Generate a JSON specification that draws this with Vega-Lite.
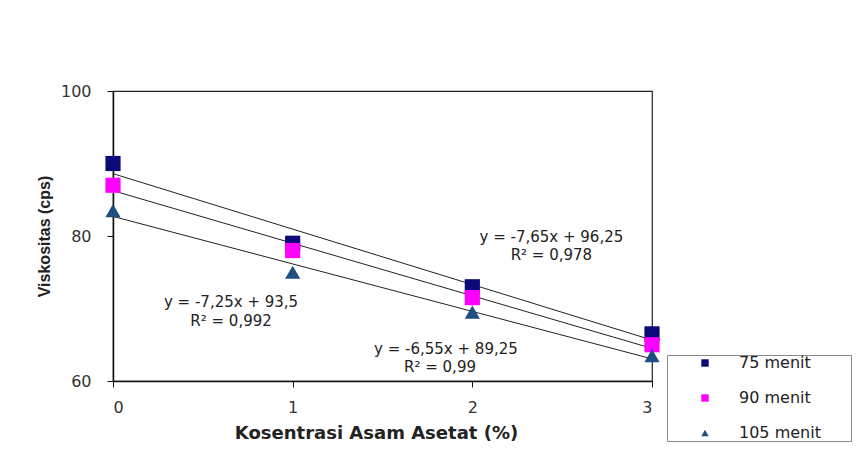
{
  "$schema": "https://vega.github.io/schema/vega-lite/v6.json",
  "autosize": {"type": "none"},
  "width": 539,
  "height": 290,
  "padding": {"left": 113, "top": 91, "right": 208, "bottom": 93},
  "background": "white",
  "config": {
    "font": "DejaVu Sans",
    "view": {"stroke": "#222", "strokeWidth": 1.2},
    "axis": {"grid": false, "domainColor": "#111", "tickColor": "#111", "labelColor": "#333", "labelFont": "DejaVu Sans", "labelFontSize": 16, "titleColor": "#222", "titleFontWeight": "bold", "domainWidth": 1.5, "tickSize": 6}
  },
  "datasets": {
    "obs": [
      {"x": 0, "y": 90, "series": "75 menit"},
      {"x": 1, "y": 79, "series": "75 menit"},
      {"x": 2, "y": 73, "series": "75 menit"},
      {"x": 3, "y": 66.5, "series": "75 menit"},
      {"x": 0, "y": 87, "series": "90 menit"},
      {"x": 1, "y": 78, "series": "90 menit"},
      {"x": 2, "y": 71.5, "series": "90 menit"},
      {"x": 3, "y": 65, "series": "90 menit"},
      {"x": 0, "y": 83.5, "series": "105 menit"},
      {"x": 1, "y": 75, "series": "105 menit"},
      {"x": 2, "y": 69.5, "series": "105 menit"},
      {"x": 3, "y": 63.5, "series": "105 menit"}
    ],
    "notes": [
      {"x": 2.44, "y": 79.86, "label": "y = -7,65x + 96,25"},
      {"x": 2.44, "y": 77.38, "label": "R² = 0,978"},
      {"x": 0.657, "y": 70.83, "label": "y = -7,25x + 93,5"},
      {"x": 0.657, "y": 68.34, "label": "R² = 0,992"},
      {"x": 1.853, "y": 64.48, "label": "y = -6,55x + 89,25"},
      {"x": 1.82, "y": 62.0, "label": "R² = 0,99"}
    ]
  },
  "layer": [
    {
      "data": {"name": "obs"},
      "transform": [{"regression": "y", "on": "x", "groupby": ["series"], "extent": [0, 3]}],
      "mark": {"type": "line", "color": "#222", "strokeWidth": 1},
      "encoding": {
        "x": {"field": "x", "type": "quantitative"},
        "y": {"field": "y", "type": "quantitative"},
        "detail": {"field": "series"}
      }
    },
    {
      "data": {"name": "obs"},
      "mark": {"type": "point", "filled": true, "opacity": 1, "size": 230},
      "encoding": {
        "x": {"field": "x", "type": "quantitative", "scale": {"domain": [0, 3], "nice": false}, "axis": {"values": [0, 1, 2, 3], "format": "d", "labelPadding": 12, "title": "Kosentrasi Asam Asetat (%)", "titleFontSize": 18, "titleX": 263, "titlePadding": 9}},
        "y": {"field": "y", "type": "quantitative", "scale": {"domain": [60, 100], "nice": false, "zero": false}, "axis": {"values": [60, 80, 100], "labelPadding": 16, "title": "Viskositas (cps)", "titleFont": "Liberation Sans", "titleFontSize": 16, "titlePadding": 8}},
        "color": {"field": "series", "type": "nominal", "scale": {"domain": ["75 menit", "90 menit", "105 menit"], "range": ["#0a0a78", "#ff00ff", "#1f4e80"]},
          "legend": {"title": "\u00a0", "titleOrient": "right", "titlePadding": 30, "orient": "none", "legendX": 554, "legendY": 264, "strokeColor": "#888", "padding": 0, "rowPadding": 19, "symbolSize": 55, "labelFont": "DejaVu Sans", "labelFontSize": 16, "labelColor": "#222", "labelOffset": 26, "symbolOffset": 30, "symbolStrokeWidth": 0}},
        "shape": {"field": "series", "type": "nominal", "scale": {"domain": ["75 menit", "90 menit", "105 menit"], "range": ["square", "square", "triangle-up"]}, "legend": null}
      }
    },
    {
      "data": {"name": "notes"},
      "mark": {"type": "text", "font": "DejaVu Sans", "fontSize": 15, "color": "#222", "align": "center", "baseline": "middle"},
      "encoding": {
        "x": {"field": "x", "type": "quantitative"},
        "y": {"field": "y", "type": "quantitative"},
        "text": {"field": "label"}
      }
    }
  ]
}
